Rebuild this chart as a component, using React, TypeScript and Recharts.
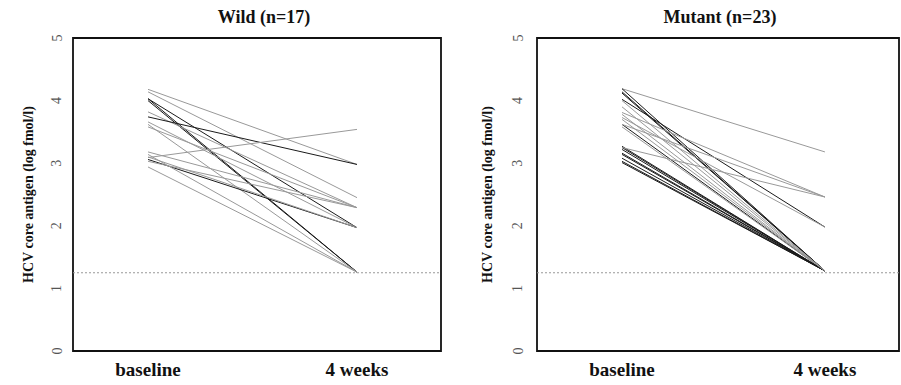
import React from "react"
import { Line, LineChart, ReferenceArea, ReferenceLine, XAxis, YAxis } from "recharts"

// x positions of the two visits and their labels
const timePoints = [0, 1]
const timeLabels = ["baseline", "4 weeks"]
const yTicks = [0, 1, 2, 3, 4, 5]
const detectionLimit = 1.25

// Wild (n=17): log fmol/l at baseline and 4 weeks, one entry per patient
const wildBaseline = [4.18, 4.14, 4.03, 4.0, 4.03, 3.82, 3.74, 3.66, 3.58, 3.62, 3.18, 3.09, 3.06, 3.03, 3.14, 2.94, 3.1]
const wildWeek4 = [2.98, 2.45, 1.26, 1.26, 1.97, 2.29, 2.98, 1.97, 2.29, 1.26, 2.29, 3.54, 1.97, 2.29, 1.26, 1.26, 1.97]

// Mutant (n=23)
const mutantBaseline = [
  4.19, 4.19, 4.14, 4.12, 4.02, 4.0, 3.81, 3.78, 3.73, 3.62, 3.58, 3.62, 3.27, 3.25, 3.22, 3.16, 3.14, 3.08, 3.03,
  3.01, 3.25, 3.7, 3.9,
]
const mutantWeek4 = [
  3.18, 1.28, 1.28, 1.28, 1.98, 1.28, 2.46, 1.28, 1.98, 1.28, 1.28, 2.46, 1.28, 1.28, 1.28, 1.28, 1.28, 1.28, 1.28,
  1.28, 2.46, 1.28, 1.28,
]

// line shades (d = dark, l = light)
const wildShade = "lldddldllllldllll"
const mutantShade = "lddddlllldllddddddddlll"

const FONT = "'Liberation Serif', 'Times New Roman', serif"
const DARK = "#1a1a1a"
const LIGHT = "#999"

const buildRows = (before: number[], after: number[]) =>
  timePoints.map((t, i) => {
    const row: Record<string, number> = { t }
    before.forEach((v, k) => {
      row["p" + k] = i === 0 ? v : after[k]
    })
    return row
  })

const RotatedTick = (props: any) => {
  const { x, y, payload } = props
  return (
    <text
      x={x}
      y={y}
      transform={`rotate(-90 ${x} ${y})`}
      textAnchor="middle"
      dominantBaseline="central"
      fontFamily={FONT}
      fontSize={14}
      fill="#555"
    >
      {payload.value}
    </text>
  )
}

interface PanelProps {
  left: number
  width: number
  axisWidth: number
  marginRight: number
  domain: [number, number]
  before: number[]
  after: number[]
  shade: string
  labelX: number
  tickGap: number
}

function Panel({ left, width, axisWidth, marginRight, domain, before, after, shade, labelX, tickGap }: PanelProps) {
  const data = buildRows(before, after)
  return (
    <div style={{ position: "absolute", left, top: 0 }}>
      <LineChart width={width} height={385} data={data} margin={{ top: 38, right: marginRight, bottom: 4, left: 0 }}>
        <XAxis
          dataKey="t"
          type="number"
          domain={domain}
          ticks={timePoints}
          tickFormatter={(v) => timeLabels[v]}
          allowDataOverflow
          height={30}
          tickSize={0}
          tickMargin={12}
          axisLine={false}
          tick={{ fontFamily: FONT, fontSize: 19, fontWeight: "bold", fill: "#111" }}
        />
        <YAxis
          type="number"
          domain={[0, 5]}
          ticks={yTicks}
          width={axisWidth}
          tickSize={0}
          tickMargin={tickGap}
          axisLine={false}
          tick={<RotatedTick />}
          label={{
            value: "HCV core antigen (log fmol/l)",
            angle: -90,
            position: "insideLeft",
            offset: labelX,
            style: { textAnchor: "middle", fontFamily: FONT, fontSize: 14, fontWeight: "bold", fill: "#111" },
          }}
        />
        {/* plot frame */}
        <ReferenceArea
          x1={domain[0]}
          x2={domain[1]}
          y1={0}
          y2={5}
          fill="none"
          stroke="#111"
          strokeWidth={1.8}
          ifOverflow="visible"
        />
        <ReferenceLine y={detectionLimit} stroke="#999" strokeDasharray="2 2" />
        {before.map((_, k) => (
          <Line
            key={k}
            type="linear"
            dataKey={"p" + k}
            stroke={shade[k] === "d" ? DARK : LIGHT}
            strokeWidth={1}
            dot={false}
            isAnimationActive={false}
          />
        ))}
      </LineChart>
    </div>
  )
}

const titleStyle: React.CSSProperties = {
  position: "absolute",
  top: 7,
  fontFamily: FONT,
  fontSize: 18,
  fontWeight: "bold",
  color: "#111",
  transform: "translateX(-50%)",
  whiteSpace: "nowrap",
}

export default function App() {
  return (
    <div style={{ position: "absolute", left: 0, top: 0, width: 901, height: 385, background: "#fff" }}>
      <Panel
        left={0}
        width={450}
        axisWidth={73}
        marginRight={9}
        domain={[-0.359, 1.402]}
        before={wildBaseline}
        after={wildWeek4}
        shade={wildShade}
        labelX={28}
        tickGap={16}
      />
      <Panel
        left={450}
        width={451}
        axisWidth={87}
        marginRight={2}
        domain={[-0.419, 1.365]}
        before={mutantBaseline}
        after={mutantWeek4}
        shade={mutantShade}
        labelX={37}
        tickGap={19}
      />
      <div style={{ ...titleStyle, left: 264 }}>Wild (n=17)</div>
      <div style={{ ...titleStyle, left: 720 }}>Mutant (n=23)</div>
    </div>
  )
}
